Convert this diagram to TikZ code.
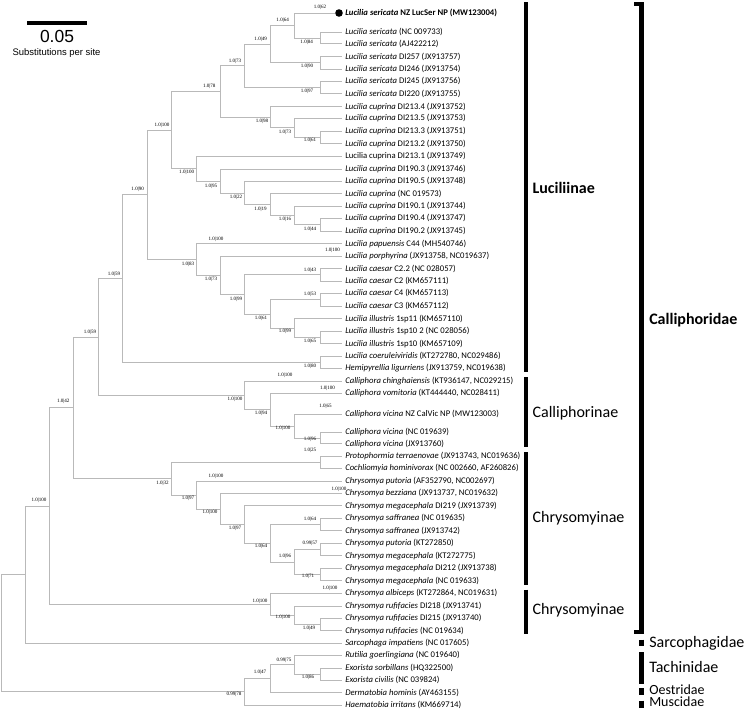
\documentclass[tikz,border=0pt]{standalone}
\usepackage{fontspec}
\setmainfont{Carlito}
\newfontfamily\supff{Liberation Serif}
\newfontfamily\arialff{Liberation Sans}
\definecolor{treegray}{RGB}{185,185,185}
\newcommand{\tipF}{\fontsize{6.5}{7.5}\selectfont}
\newcommand{\supF}{\supff\fontsize{3.8}{4.5}\selectfont}
\newcommand{\cladeF}{\fontsize{12}{14}\selectfont}
\newcommand{\smallcladeF}{\fontsize{10.5}{11.5}\selectfont}
\newcommand{\mytip}[3]{\coordinate (e#1) at (342,#2); \node[tiplab] (l#1) at (345,#2) {#3};}
\tikzset{
  br/.style={draw=treegray, line width=0.6pt},
  tiplab/.style={anchor=west, inner sep=0pt, font=\tipF},
  sup/.style={inner sep=0pt, font=\supF},
  cbar/.style={line width=3.2pt, line cap=butt},
  cladelab/.style={anchor=west, inner sep=0pt, font=\cladeF},
  smallclade/.style={anchor=west, inner sep=0pt, font=\smallcladeF},
}
\begin{document}
\begin{tikzpicture}[x=0.75pt,y=-0.75pt]
\useasboundingbox (0,0) rectangle (745,710);
% scale bar
\draw[line width=3pt] (27.3,22.7) coordinate (sb1) -- (86.7,22.7) coordinate (sb2);
\node[inner sep=0pt, font=\arialff\fontsize{13.1}{15}\selectfont] (sbn) at (57,36.7) {0.05};
\node[inner sep=0pt, font=\arialff\fontsize{7.1}{8.5}\selectfont] (sbt) at (56.5,52.7) {Substitutions per site};
% tips
\coordinate (e1) at (335,13);
\node[circle, fill=black, inner sep=0pt, minimum size=5.7pt] (dot) at (339,13) {};
\node[tiplab] (l1) at (345,13) {\textbf{\textit{Lucilia sericata} NZ LucSer NP (MW123004)}};
\mytip{2}{32.3}{\textit{Lucilia sericata} (NC 009733)}
\mytip{3}{43.7}{\textit{Lucilia sericata} (AJ422212)}
\mytip{4}{56.7}{\textit{Lucilia sericata} DI257 (JX913757)}
\mytip{5}{69}{\textit{Lucilia sericata} DI246 (JX913754)}
\mytip{6}{81.3}{\textit{Lucilia sericata} DI245 (JX913756)}
\mytip{7}{93.7}{\textit{Lucilia sericata} DI220 (JX913755)}
\mytip{8}{106.7}{\textit{Lucilia cuprina} DI213.4 (JX913752)}
\mytip{9}{118.3}{\textit{Lucilia cuprina} DI213.5 (JX913753)}
\mytip{10}{131}{\textit{Lucilia cuprina} DI213.3 (JX913751)}
\mytip{11}{143.7}{\textit{Lucilia cuprina} DI213.2 (JX913750)}
\mytip{12}{156}{Lucilia cuprina DI213.1 (JX913749)}
\mytip{13}{169}{\textit{Lucilia cuprina} DI190.3 (JX913746)}
\mytip{14}{181.3}{\textit{Lucilia cuprina} DI190.5 (JX913748)}
\mytip{15}{193.7}{\textit{Lucilia cuprina} (NC 019573)}
\mytip{16}{206.3}{\textit{Lucilia cuprina} DI190.1 (JX913744)}
\mytip{17}{218.3}{\textit{Lucilia cuprina} DI190.4 (JX913747)}
\mytip{18}{231}{\textit{Lucilia cuprina} DI190.2 (JX913745)}
\mytip{19}{243.7}{\textit{Lucilia papuensis} C44 (MH540746)}
\mytip{20}{256}{\textit{Lucilia porphyrina} (JX913758, NC019637)}
\mytip{21}{268.7}{\textit{Lucilia caesar} C2.2 (NC 028057)}
\mytip{22}{281}{\textit{Lucilia caesar} C2 (KM657111)}
\mytip{23}{293.3}{\textit{Lucilia caesar} C4 (KM657113)}
\mytip{24}{306.3}{\textit{Lucilia caesar} C3 (KM657112)}
\mytip{25}{318.7}{\textit{Lucilia illustris} 1sp11 (KM657110)}
\mytip{26}{331.3}{\textit{Lucilia illustris} 1sp10 2 (NC 028056)}
\mytip{27}{343.7}{\textit{Lucilia illustris} 1sp10 (KM657109)}
\mytip{28}{356}{\textit{Lucilia coeruleiviridis} (KT272780, NC029486)}
\mytip{29}{368.3}{\textit{Hemipyrellia ligurriens} (JX913759, NC019638)}
\mytip{30}{381}{\textit{Calliphora chinghaiensis} (KT936147, NC029215)}
\mytip{31}{393.3}{\textit{Calliphora vomitoria} (KT444440, NC028411)}
\mytip{32}{414}{\textit{Calliphora vicina} NZ CalVic NP (MW123003)}
\mytip{33}{432.3}{\textit{Calliphora vicina} (NC 019639)}
\mytip{34}{443.7}{\textit{Calliphora vicina} (JX913760)}
\mytip{35}{456}{\textit{Protophormia terraenovae} (JX913743, NC019636)}
\mytip{36}{468.3}{\textit{Cochliomyia hominivorax} (NC 002660, AF260826)}
\mytip{37}{481}{\textit{Chrysomya putoria} (AF352790, NC002697)}
\mytip{38}{493.3}{\textit{Chrysomya bezziana} (JX913737, NC019632)}
\mytip{39}{505.7}{\textit{Chrysomya megacephala} DI219 (JX913739)}
\mytip{40}{518.3}{\textit{Chrysomya saffranea} (NC 019635)}
\mytip{41}{530.7}{\textit{Chrysomya saffranea} (JX913742)}
\mytip{42}{543.3}{\textit{Chrysomya putoria} (KT272850)}
\mytip{43}{555.7}{\textit{Chrysomya megacephala} (KT272775)}
\mytip{44}{568.3}{\textit{Chrysomya megacephala} DI212 (JX913738)}
\mytip{45}{580.7}{\textit{Chrysomya megacephala} (NC 019633)}
\mytip{46}{593}{\textit{Chrysomya albiceps} (KT272864, NC019631)}
\mytip{47}{606}{\textit{Chrysomya rufifacies} DI218 (JX913741)}
\mytip{48}{618.3}{\textit{Chrysomya rufifacies} DI215 (JX913740)}
\mytip{49}{630.7}{\textit{Chrysomya rufifacies} (NC 019634)}
\mytip{50}{643}{\textit{Sarcophaga impatiens} (NC 017605)}
\mytip{51}{655.3}{\textit{Rutilia goerlingiana} (NC 019640)}
\mytip{52}{668}{\textit{Exorista sorbillans} (HQ322500)}
\mytip{53}{680}{\textit{Exorista civilis} (NC 039824)}
\mytip{54}{692.7}{\textit{Dermatobia hominis} (AY463155)}
\mytip{55}{705}{\textit{Haematobia irritans} (KM669714)}
% internal nodes
\coordinate (B) at (320,38);      \coordinate (A) at (294,25.5);
\coordinate (F) at (320,62.85);   \coordinate (C) at (270,44.2);
\coordinate (E) at (320,87.5);    \coordinate (D) at (244.5,65.85);
\coordinate (J) at (320,137.35);  \coordinate (I) at (294,127.8);
\coordinate (Hn) at (270,117.25); \coordinate (G) at (220.5,91.55);
\coordinate (P) at (320,224.65);  \coordinate (O) at (294,215.5);
\coordinate (N) at (270,204.6);   \coordinate (M) at (244.5,192.95);
\coordinate (L) at (220.5,181);   \coordinate (K) at (196.7,168.5);
\coordinate (Q) at (171.7,130);
\coordinate (W) at (320,274.85);  \coordinate (Y) at (320,299.8);
\coordinate (AA) at (320,337.5);  \coordinate (Z) at (294,328.1);
\coordinate (Yb) at (270,313.95); \coordinate (V) at (244.5,294.4);
\coordinate (U) at (220.5,275.2); \coordinate (S) at (196.7,259.45);
\coordinate (R1) at (147.5,194.7);\coordinate (T) at (320,362.15);
\coordinate (R2) at (122.5,278.4);
\coordinate (CD) at (320,438);    \coordinate (CC) at (294,426);
\coordinate (CB) at (270,409.65); \coordinate (CA) at (244.5,395.3);
\coordinate (R3) at (98.3,336.9);
\coordinate (PC) at (320,462.15);
\coordinate (S1) at (320,524.5);  \coordinate (M1) at (320,549.5);
\coordinate (M2) at (320,574.5);  \coordinate (M3) at (294,562);
\coordinate (M4) at (270,543.25); \coordinate (CH4) at (244.5,524.5);
\coordinate (CH3) at (220.5,508.9);\coordinate (CH2) at (196.7,494.95);
\coordinate (CH1) at (171.7,478.55);
\coordinate (R4) at (73.3,407.7);
\coordinate (RF3) at (320,624.5); \coordinate (RF2) at (294,615.25);
\coordinate (RF) at (270,604.1);  \coordinate (N1) at (49.3,505.9);
\coordinate (N0) at (25,574.45);
\coordinate (X) at (320,674);     \coordinate (H3) at (294,664.65);
\coordinate (H2) at (270,678.7);  \coordinate (Hh) at (244.5,691.85);
\coordinate (Rt) at (1,633.15);
% branches
\foreach \p/\c in {A/e1,A/B,B/e2,B/e3,C/A,C/F,F/e4,F/e5,D/C,D/E,E/e6,E/e7,
  G/D,G/Hn,Hn/e8,Hn/I,I/e9,I/J,J/e10,J/e11,Q/G,Q/K,K/e12,K/L,L/e13,L/M,
  M/e14,M/N,N/e15,N/O,O/e16,O/P,P/e17,P/e18,R1/Q,R1/S,S/e19,S/U,U/e20,U/V,
  V/W,V/Yb,W/e21,W/e22,Yb/Y,Yb/Z,Y/e23,Y/e24,Z/e25,Z/AA,AA/e26,AA/e27,
  R2/R1,R2/T,T/e28,T/e29,R3/R2,R3/CA,CA/e30,CA/CB,CB/e31,CB/CC,CC/e32,CC/CD,
  CD/e33,CD/e34,R4/R3,R4/CH1,CH1/PC,CH1/CH2,PC/e35,PC/e36,CH2/e37,CH2/CH3,
  CH3/e38,CH3/CH4,CH4/e39,CH4/M4,M4/S1,M4/M3,S1/e40,S1/e41,M3/M1,M3/M2,
  M1/e42,M1/e43,M2/e44,M2/e45,N1/R4,N1/RF,RF/e46,RF/RF2,RF2/e47,RF2/RF3,
  RF3/e48,RF3/e49,N0/N1,N0/e50,Rt/N0,Rt/Hh,Hh/H2,Hh/e55,H2/H3,H2/e54,
  H3/e51,H3/X,X/e52,X/e53}
  \draw[br] (\p) |- (\c);
% support values
\node[sup] (s1) at (320,7.7) {1.0|62};
\node[sup] (s2) at (282.7,20.7) {1.0|64};
\node[sup] (s3) at (306.7,42.3) {1.0|84};
\node[sup] (s4) at (260.7,39) {1.0|49};
\node[sup] (s5) at (307,66.7) {1.0|90};
\node[sup] (s6) at (235,61) {1.0|73};
\node[sup] (s7) at (307,91.7) {1.0|97};
\node[sup] (s8) at (209.3,86.7) {1.0|78};
\node[sup] (s9) at (262,121.7) {1.0|98};
\node[sup] (s10) at (285,132.7) {1.0|73};
\node[sup] (s11) at (310,140.7) {1.0|61};
\node[sup] (s12) at (162,125) {1.0|100};
\node[sup] (s13) at (186.7,172.7) {1.0|100};
\node[sup] (s14) at (211,186) {1.0|95};
\node[sup] (s15) at (236,197.7) {1.0|22};
\node[sup] (s16) at (137.7,189.3) {1.0|90};
\node[sup] (s17) at (260.5,209) {1.0|19};
\node[sup] (s18) at (285,219.3) {1.0|16};
\node[sup] (s19) at (310,229.3) {1.0|44};
\node[sup] (s20) at (216,239.3) {1.0|100};
\node[sup] (s21) at (332.5,250.7) {1.0|100};
\node[sup] (s22) at (188,264.3) {1.0|83};
\node[sup] (s23) at (114,274) {1.0|59};
\node[sup] (s24) at (310,270) {1.0|43};
\node[sup] (s25) at (211,279) {1.0|73};
\node[sup] (s26) at (310,294.3) {1.0|53};
\node[sup] (s27) at (236,299.3) {1.0|99};
\node[sup] (s28) at (261,318.3) {1.0|61};
\node[sup] (s29) at (285,331.7) {1.0|99};
\node[sup] (s30) at (310,341.7) {1.0|65};
\node[sup] (s31) at (90,332.3) {1.0|59};
\node[sup] (s32) at (310,366) {1.0|80};
\node[sup] (s33) at (285,375) {1.0|100};
\node[sup] (s34) at (327.5,388.3) {1.0|100};
\node[sup] (s35) at (235,399) {1.0|100};
\node[sup] (s36) at (63.3,401.7) {1.0|42};
\node[sup] (s37) at (325.5,406) {1.0|65};
\node[sup] (s38) at (261,413.3) {1.0|94};
\node[sup] (s39) at (283,428.3) {1.0|100};
\node[sup] (s40) at (310,439.3) {1.0|96};
\node[sup] (s41) at (310,450.7) {1.0|25};
\node[sup] (s42) at (216,476.7) {1.0|100};
\node[sup] (s43) at (162.5,483) {1.0|32};
\node[sup] (s44) at (339,489.3) {1.0|100};
\node[sup] (s45) at (188,498.3) {1.0|97};
\node[sup] (s46) at (39,500) {1.0|100};
\node[sup] (s47) at (210,512.3) {1.0|100};
\node[sup] (s48) at (310,519.3) {1.0|64};
\node[sup] (s49) at (235,528.3) {1.0|97};
\node[sup] (s50) at (310,543.3) {0.99|57};
\node[sup] (s51) at (261,546.7) {1.0|64};
\node[sup] (s52) at (285,556) {1.0|96};
\node[sup] (s53) at (308,576.7) {1.0|71};
\node[sup] (s54) at (330,588.3) {1.0|100};
\node[sup] (s55) at (260,601) {1.0|100};
\node[sup] (s56) at (283,617.3) {1.0|100};
\node[sup] (s57) at (309,628.3) {1.0|49};
\node[sup] (s58) at (284,660.7) {0.99|75};
\node[sup] (s59) at (260,672.7) {1.0|47};
\node[sup] (s60) at (308,677.3) {1.0|86};
\node[sup] (s61) at (234,694.3) {0.99|78};
% clade bars
\draw[cbar] (526,2.3) -- (526,371.9);
\draw[cbar] (526,377.3) -- (526,446.7);
\draw[cbar] (526,452) -- (526,585);
\draw[cbar] (526,589.6) -- (526,633.6);
\draw[line width=3.4pt, line join=miter] (634,4) -- (641.5,4) -- (641.5,632) -- (634,632);
\draw[cbar] (641.5,639.5) -- (641.5,646.3);
\draw[cbar] (641.5,652) -- (641.5,684);
\draw[cbar] (641.5,688.4) -- (641.5,694.8);
\draw[cbar] (641.5,700.7) -- (641.5,707.5);
\node[cladelab] (c1) at (532.3,188) {\textbf{Luciliinae}};
\node[cladelab] (c2) at (532.3,413) {Calliphorinae};
\node[cladelab] (c3) at (532.3,518.5) {Chrysomyinae};
\node[cladelab] (c4) at (532.3,610) {Chrysomyinae};
\node[cladelab] (c5) at (649,320) {\textbf{Calliphoridae}};
\node[cladelab] (c6) at (649,643) {Sarcophagidae};
\node[cladelab] (c7) at (649,667) {Tachinidae};
\node[smallclade] (c8) at (649,689.5) {Oestridae};
\node[smallclade] (c9) at (649,701.5) {Muscidae};
\end{tikzpicture}
\end{document}
